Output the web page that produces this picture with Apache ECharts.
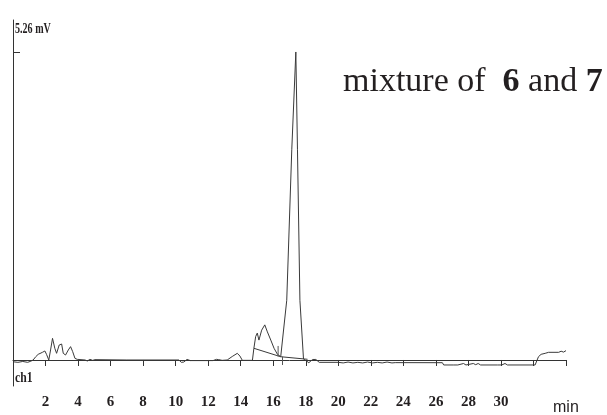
<!DOCTYPE html>
<html>
<head>
<meta charset="utf-8">
<script src="https://cdn.jsdelivr.net/npm/echarts@6/dist/echarts.min.js"></script>
<style>
  html, body { margin: 0; padding: 0; background: #fff; }
  #root { width: 607px; height: 415px; }
</style>
</head>
<body>
<div id="root"></div>
<script>
// detector trace: [time (min), signal (mV)]
var trace = [
  [0, -0.03], [0.3, -0.04], [0.6, -0.025], [0.9, -0.04], [1.1, -0.02], [1.24, 0],
  [1.40, 0.057], [1.55, 0.097], [1.65, 0.068], [1.81, 0.131], [1.96, 0.154], [2.06, 0.097],
  [2.20, 0], [2.31, 0.171], [2.43, 0.37], [2.57, 0.20], [2.68, 0.114], [2.84, 0.256],
  [2.99, 0.273], [3.09, 0.114], [3.23, 0.085], [3.40, 0.171], [3.54, 0.228], [3.67, 0.142],
  [3.81, 0.028], [3.95, 0.011], [4.43, 0], [4.57, -0.017], [4.73, 0.011], [4.90, -0.006],
  [5.04, 0.006], [7.0, 0], [10.2, 0], [10.35, -0.04], [10.5, -0.035], [10.7, 0.01],
  [10.9, -0.01], [12.3, -0.01], [12.35, -0.03], [12.51, 0.011], [12.65, 0.006], [12.86, -0.006],
  [13.17, 0], [13.48, 0.06], [13.79, 0.114], [13.95, 0.068], [14.10, -0.006], [14.72, -0.006],
  [14.81, 0.2], [14.92, 0.40], [15.02, 0.46], [15.12, 0.34], [15.29, 0.51], [15.48, 0.60],
  [15.64, 0.48], [15.85, 0.34], [16.05, 0.20], [16.26, 0.097], [16.46, 0.056], [16.57, 0.056],
  [16.83, 1.02], [17.14, 3.59], [17.39, 5.26], [17.49, 3.59], [17.64, 1.02], [17.86, 0.017],
  [18.19, -0.046], [18.42, 0.009], [18.62, 0.009], [18.83, -0.04], [20.0, -0.04], [20.3, -0.05],
  [20.6, -0.035], [20.9, -0.05], [21.2, -0.04], [21.5, -0.05], [21.8, -0.035], [22.1, -0.05],
  [22.4, -0.04], [22.7, -0.05], [23.0, -0.035], [23.3, -0.05], [23.5, -0.045], [26.40, -0.046],
  [26.48, -0.085], [27.1, -0.085], [27.2, -0.055], [27.35, -0.085], [27.7, -0.06], [27.85, -0.085],
  [28.3, -0.06], [28.45, -0.08], [28.6, -0.06], [28.75, -0.085], [29.8, -0.085], [29.9, -0.06],
  [30.05, -0.085], [30.25, -0.06], [30.4, -0.085], [32.1, -0.085], [32.31, 0.057], [32.47, 0.097],
  [32.72, 0.114], [32.93, 0.131], [33.55, 0.131], [33.7, 0.15], [33.85, 0.135], [34.0, 0.16]
];

// integration baseline under the 15-18 min peaks
var integrationBase = [[14.81, 0.2], [16.46, 0.056], [18.11, 0.012]];

// peak start / end marks
var dropMarks = [
  [[16.30, 0.24], [16.30, 0.06]],
  [[16.57, 0.056], [16.57, -0.085]]
];

var fullScale = 5.26;   // mV at the top tick
var labelTicks = [2, 4, 6, 8, 10, 12, 14, 16, 18, 20, 22, 24, 26, 28, 30];

var lineColor = '#3a3a3a';
var textColor = '#231f20';
var serif = '"Liberation Serif", "Times New Roman", serif';

var chart = echarts.init(document.getElementById('root'));

var series = [
  {
    type: 'line',
    data: trace,
    symbol: 'none',
    lineStyle: { color: lineColor, width: 1 }
  },
  {
    type: 'line',
    data: integrationBase,
    symbol: 'none',
    lineStyle: { color: lineColor, width: 1 }
  }
];
dropMarks.forEach(function (seg) {
  series.push({
    type: 'line',
    data: seg,
    symbol: 'none',
    lineStyle: { color: '#555', width: 1 }
  });
});

chart.setOption({
  backgroundColor: '#fff',
  animation: false,
  title: {
    text: 'mixture of  {b|6} and {b|7}',
    left: 343,
    top: 65,
    padding: 0,
    textStyle: {
      fontFamily: serif,
      fontSize: 34,
      fontWeight: 'normal',
      color: textColor,
      rich: {
        b: { fontFamily: serif, fontSize: 34, fontWeight: 'bold', color: textColor }
      }
    }
  },
  grid: { left: 13, right: 41, top: 20, bottom: 29, containLabel: false },
  xAxis: {
    type: 'value',
    min: 0,
    max: 34,
    interval: 2,
    axisLine: { lineStyle: { color: '#333', width: 1 } },
    axisTick: { inside: false, length: 6, lineStyle: { color: '#333' } },
    axisLabel: {
      margin: 9,
      fontFamily: serif,
      fontWeight: 'bold',
      fontSize: 15,
      color: textColor,
      formatter: function (v) { return labelTicks.indexOf(v) >= 0 ? String(v) : ''; }
    },
    splitLine: { show: false }
  },
  yAxis: {
    type: 'value',
    min: -0.444,
    max: 5.806,
    axisLine: { show: true, lineStyle: { color: '#333', width: 1 } },
    axisTick: { show: true, inside: true, length: 7, customValues: [fullScale], lineStyle: { color: '#333' } },
    axisLabel: { show: false },
    splitLine: { show: false }
  },
  graphic: [
    {
      type: 'text',
      left: 15,
      top: 22,
      scaleX: 0.72,
      style: { text: fullScale + ' mV', font: 'bold 14px ' + serif, fill: textColor }
    },
    {
      type: 'text',
      left: 15,
      top: 371,
      scaleX: 0.78,
      style: { text: 'ch1', font: 'bold 15px ' + serif, fill: textColor }
    },
    {
      type: 'text',
      left: 553,
      top: 400,
      style: { text: 'min', font: '16px "Liberation Sans", Arial, sans-serif', fill: textColor }
    }
  ],
  series: series
});
</script>
</body>
</html>
